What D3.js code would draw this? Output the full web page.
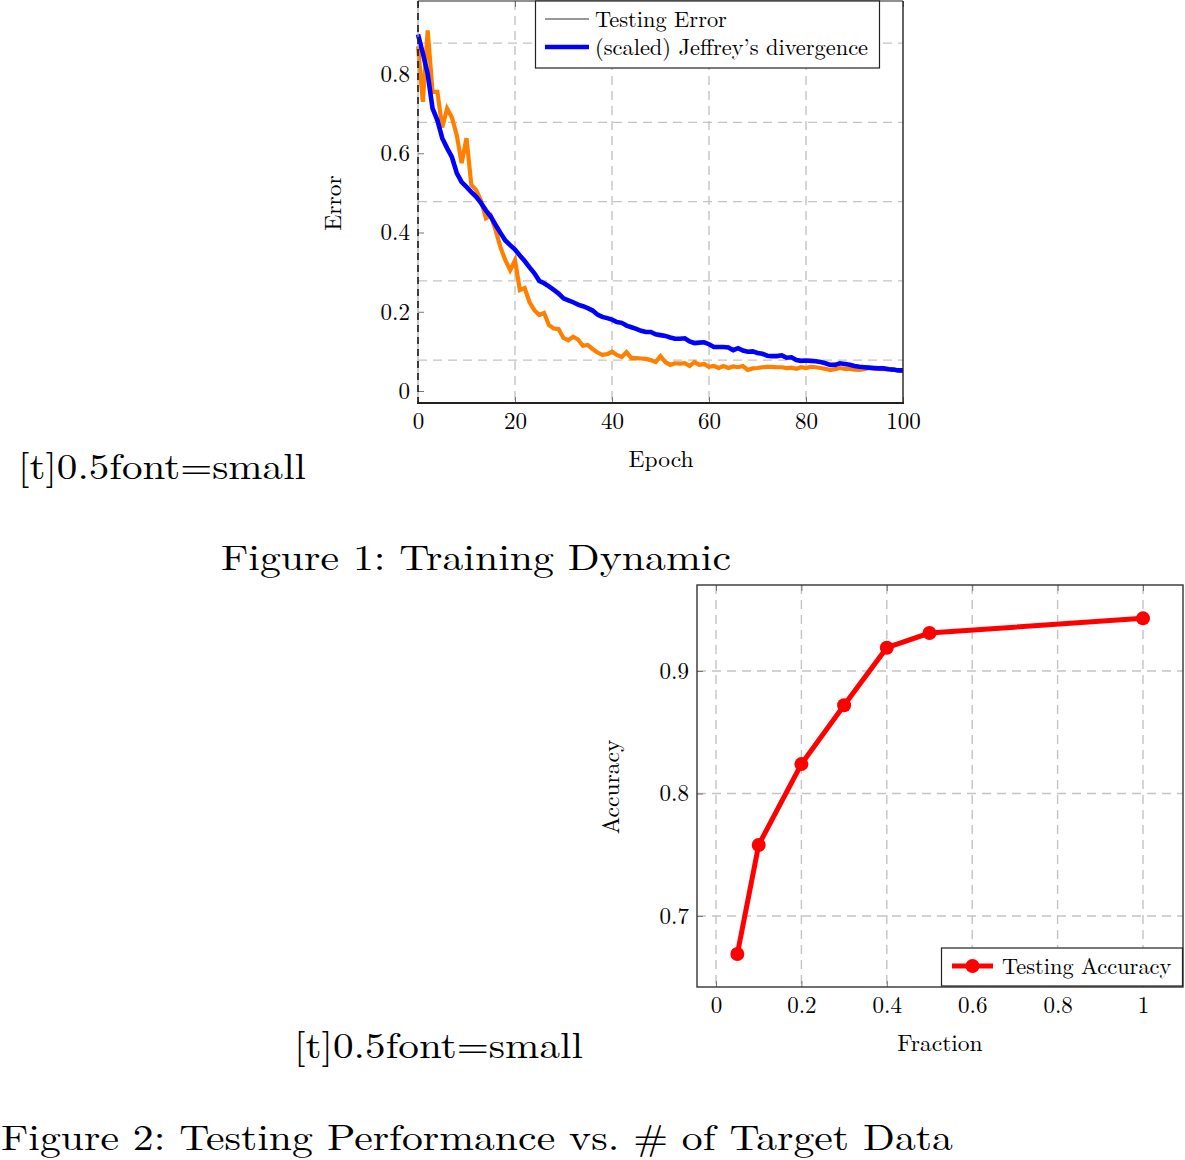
<!DOCTYPE html>
<html>
<head>
<meta charset="utf-8">
<script src="https://cdn.jsdelivr.net/npm/d3@7"></script>
<style>
  body { margin: 0; background: #fff; }
  svg { display: block; }
  text { font-family: "Latin Modern Roman", "CMU Serif", "Liberation Serif", serif; fill: #000; }
</style>
</head>
<body>
<svg id="page" width="1185" height="1160"></svg>
<script>
// ---- Figure 1 data (Training Dynamic) ----
const epochs = d3.range(0, 101);
const testingError = [
  0.87, 0.73, 0.91, 0.755, 0.755, 0.665, 0.713, 0.69, 0.645, 0.575,
  0.638, 0.52, 0.507, 0.48, 0.436, 0.443, 0.406, 0.363, 0.33, 0.305,
  0.33, 0.255, 0.26, 0.224, 0.204, 0.192, 0.197, 0.166, 0.158, 0.156,
  0.134, 0.128, 0.137, 0.13, 0.114, 0.116, 0.106, 0.097, 0.091, 0.093,
  0.099, 0.091, 0.086, 0.098, 0.083, 0.083, 0.082, 0.081, 0.078, 0.073,
  0.088, 0.073, 0.066, 0.07, 0.069, 0.07, 0.063, 0.073, 0.066, 0.068,
  0.061, 0.063, 0.058, 0.063, 0.058, 0.062, 0.06, 0.063, 0.053, 0.057,
  0.058, 0.06, 0.061, 0.061, 0.06, 0.06, 0.058, 0.059, 0.056, 0.06,
  0.058, 0.061, 0.06, 0.058, 0.056, 0.053, 0.055, 0.058, 0.056, 0.056,
  0.054, 0.053, 0.055, 0.058, 0.056, 0.056, 0.055, 0.056, 0.054, 0.052,
  0.051
];
const jeffreys = [
  0.90, 0.852, 0.80, 0.713, 0.683, 0.638, 0.613, 0.59, 0.55, 0.527,
  0.515, 0.502, 0.49, 0.474, 0.456, 0.44, 0.419, 0.399, 0.38, 0.368,
  0.357, 0.342, 0.328, 0.312, 0.297, 0.278, 0.272, 0.264, 0.255, 0.246,
  0.234, 0.229, 0.224, 0.218, 0.214, 0.209, 0.203, 0.193, 0.187, 0.184,
  0.18, 0.174, 0.172, 0.165, 0.161, 0.157, 0.152, 0.149, 0.149, 0.143,
  0.141, 0.139, 0.135, 0.132, 0.132, 0.133, 0.125, 0.121, 0.122, 0.123,
  0.118, 0.111, 0.111, 0.111, 0.11, 0.103, 0.108, 0.102, 0.099, 0.1,
  0.096, 0.094, 0.089, 0.088, 0.088, 0.09, 0.084, 0.085, 0.078, 0.076,
  0.077, 0.076, 0.075, 0.073, 0.07, 0.066, 0.066, 0.07, 0.068, 0.066,
  0.063, 0.061, 0.06, 0.059, 0.058, 0.057, 0.057, 0.055, 0.054, 0.052,
  0.052
];
const epochTicks = [0, 20, 40, 60, 80, 100];
const errorTicks = [0, 0.2, 0.4, 0.6, 0.8];
const errorGrid = [0.078, 0.278, 0.478, 0.678, 0.878];
const legend1 = ["Testing Error", "(scaled) Jeffrey\u2019s divergence"];

// ---- Figure 2 data (Testing Performance) ----
const fractions = [0.05, 0.1, 0.2, 0.3, 0.4, 0.5, 1.0];
const accuracy = [0.669, 0.758, 0.824, 0.872, 0.919, 0.931, 0.943];
const fractionTicks = [0, 0.2, 0.4, 0.6, 0.8, 1];
const accuracyTicks = [0.7, 0.8, 0.9];

const svg = d3.select("#page");
const gridColor = "#c4c4c4";
const tickFont = "23px", labelFont = "23.5px", legendFont = "22.4px";

function styleAxis(g) {
  g.select(".domain").remove();
  g.selectAll(".tick line").attr("stroke", "#777").attr("stroke-width", 1);
  g.selectAll(".tick text").style("font-size", tickFont);
}

// ================= Figure 1 =================
{
  const x = d3.scaleLinear([0, 100], [418, 903]);
  const y = d3.scaleLinear([0, 0.8], [391, 74]);
  const top = 1, bottom = 403;
  const g = svg.append("g");

  // grid
  g.selectAll(".vg").data(epochTicks.slice(1, -1)).join("line")
    .attr("x1", d => x(d)).attr("x2", d => x(d)).attr("y1", top).attr("y2", bottom)
    .attr("stroke", gridColor).attr("stroke-width", 1.4).attr("stroke-dasharray", "9 6");
  g.selectAll(".hg").data(errorGrid).join("line")
    .attr("x1", x(0)).attr("x2", x(100)).attr("y1", d => y(d)).attr("y2", d => y(d))
    .attr("stroke", gridColor).attr("stroke-width", 1.4).attr("stroke-dasharray", "9 6");

  // axes (inner ticks)
  g.append("g").attr("transform", `translate(${x(0)},0)`)
    .call(d3.axisLeft(y).tickValues(errorTicks).tickFormat(d3.format("~g")).tickSizeInner(-6).tickPadding(8))
    .call(styleAxis);
  g.append("g").attr("transform", `translate(0,${bottom})`)
    .call(d3.axisBottom(x).tickValues(epochTicks).tickSizeInner(-6).tickPadding(10))
    .call(styleAxis);
  g.append("g").attr("transform", `translate(0,${top})`)
    .call(d3.axisTop(x).tickValues(epochTicks).tickSizeInner(-6).tickFormat(""))
    .call(styleAxis);

  // lines
  const line = d3.line().x((d, i) => x(epochs[i])).y(d => y(d));
  g.append("path").datum(testingError).attr("d", line)
    .attr("fill", "none").attr("stroke", "#ff8000").attr("stroke-width", 4.2).attr("stroke-linejoin", "miter");
  g.append("path").datum(jeffreys).attr("d", line)
    .attr("fill", "none").attr("stroke", "#0000ff").attr("stroke-width", 4.6).attr("stroke-linejoin", "miter");

  // frame
  g.append("line").attr("x1", x(0)).attr("x2", x(0)).attr("y1", top).attr("y2", bottom)
    .attr("stroke", "#aaa").attr("stroke-width", 1.2);
  g.append("line").attr("x1", x(0)).attr("x2", x(0)).attr("y1", top).attr("y2", bottom)
    .attr("stroke", "#000").attr("stroke-width", 1.4).attr("stroke-dasharray", "7 5");
  g.append("line").attr("x1", x(0)).attr("x2", x(100)).attr("y1", top).attr("y2", top)
    .attr("stroke", "#222").attr("stroke-width", 1.2);
  g.append("line").attr("x1", x(100)).attr("x2", x(100)).attr("y1", top).attr("y2", bottom)
    .attr("stroke", "#222").attr("stroke-width", 1.4);
  g.append("line").attr("x1", x(0) - 1).attr("x2", x(100) + 1).attr("y1", bottom).attr("y2", bottom)
    .attr("stroke", "#222").attr("stroke-width", 2);

  // legend
  const lg = g.append("g");
  lg.append("rect").attr("x", 535.5).attr("y", 1).attr("width", 344).attr("height", 67)
    .attr("fill", "#fff").attr("stroke", "#222").attr("stroke-width", 1.2);
  lg.append("line").attr("x1", 545).attr("x2", 589).attr("y1", 19).attr("y2", 19)
    .attr("stroke", "#333").attr("stroke-width", 1.2);
  lg.append("line").attr("x1", 545).attr("x2", 589).attr("y1", 47).attr("y2", 47)
    .attr("stroke", "#0000ff").attr("stroke-width", 4.6);
  lg.selectAll("text").data(legend1).join("text")
    .attr("x", 595).attr("y", (d, i) => 19 + i * 28).attr("dy", "0.35em")
    .style("font-size", legendFont).text(d => d);

  // axis labels
  g.append("text").attr("transform", "translate(333,203) rotate(-90)")
    .attr("text-anchor", "middle").attr("dy", "0.35em").style("font-size", labelFont).text("Error");
  g.append("text").attr("x", 661).attr("y", 459).attr("text-anchor", "middle")
    .attr("dy", "0.35em").style("font-size", labelFont).text("Epoch");
}

// ================= Figure 2 =================
{
  const x = d3.scaleLinear([0, 1], [716, 1143]);
  const y = d3.scaleLinear([0.7, 0.9], [916, 671]);
  const left = 697, right = 1183, top = 585, bottom = 987;
  const g = svg.append("g");

  g.selectAll(".vg").data(fractionTicks).join("line")
    .attr("x1", d => x(d)).attr("x2", d => x(d)).attr("y1", top).attr("y2", bottom)
    .attr("stroke", gridColor).attr("stroke-width", 1.4).attr("stroke-dasharray", "9 6");
  g.selectAll(".hg").data(accuracyTicks).join("line")
    .attr("x1", left).attr("x2", right).attr("y1", d => y(d)).attr("y2", d => y(d))
    .attr("stroke", gridColor).attr("stroke-width", 1.4).attr("stroke-dasharray", "9 6");

  g.append("g").attr("transform", `translate(${left},0)`)
    .call(d3.axisLeft(y).tickValues(accuracyTicks).tickFormat(d3.format("~g")).tickSizeInner(-6).tickPadding(8))
    .call(styleAxis);
  g.append("g").attr("transform", `translate(0,${bottom})`)
    .call(d3.axisBottom(x).tickValues(fractionTicks).tickFormat(d3.format("~g")).tickSizeInner(-6).tickPadding(10))
    .call(styleAxis);
  g.append("g").attr("transform", `translate(0,${top})`)
    .call(d3.axisTop(x).tickValues(fractionTicks).tickSizeInner(-6).tickFormat(""))
    .call(styleAxis);

  const line = d3.line().x((d, i) => x(fractions[i])).y(d => y(d));
  g.append("path").datum(accuracy).attr("d", line)
    .attr("fill", "none").attr("stroke", "#ff0000").attr("stroke-width", 5);
  g.selectAll(".pt").data(accuracy).join("circle")
    .attr("cx", (d, i) => x(fractions[i])).attr("cy", d => y(d)).attr("r", 7).attr("fill", "#ff0000");

  g.append("rect").attr("x", left).attr("y", top).attr("width", right - left).attr("height", bottom - top)
    .attr("fill", "none").attr("stroke", "#333").attr("stroke-width", 1.4);

  // legend
  g.append("rect").attr("x", 941.5).attr("y", 948).attr("width", 241).attr("height", 38)
    .attr("fill", "#fff").attr("stroke", "#222").attr("stroke-width", 1.2);
  g.append("line").attr("x1", 952).attr("x2", 993).attr("y1", 966).attr("y2", 966)
    .attr("stroke", "#ff0000").attr("stroke-width", 5);
  g.append("circle").attr("cx", 972.5).attr("cy", 966).attr("r", 7).attr("fill", "#ff0000");
  g.append("text").attr("x", 1002).attr("y", 966).attr("dy", "0.35em")
    .style("font-size", legendFont).text("Testing Accuracy");

  g.append("text").attr("transform", "translate(611,787) rotate(-90)")
    .attr("text-anchor", "middle").attr("dy", "0.35em").style("font-size", labelFont).text("Accuracy");
  g.append("text").attr("x", 940).attr("y", 1043).attr("text-anchor", "middle")
    .attr("dy", "0.35em").style("font-size", labelFont).text("Fraction");
}

// ================= page text =================
const pageText = [
  { t: "[t]0.5font=small", x: 18, y: 479, w: 288 },
  { t: "Figure 1: Training Dynamic", x: 221, y: 570, w: 510 },
  { t: "[t]0.5font=small", x: 294, y: 1058, w: 289 },
  { t: "Figure 2: Testing Performance vs. # of Target Data", x: 1, y: 1150, w: 952 }
];
svg.selectAll(".ptxt").data(pageText).join("text")
  .attr("x", d => d.x).attr("y", d => d.y)
  .attr("textLength", d => d.w).attr("lengthAdjust", "spacingAndGlyphs")
  .style("font-size", "36px").text(d => d.t);
</script>
</body>
</html>
